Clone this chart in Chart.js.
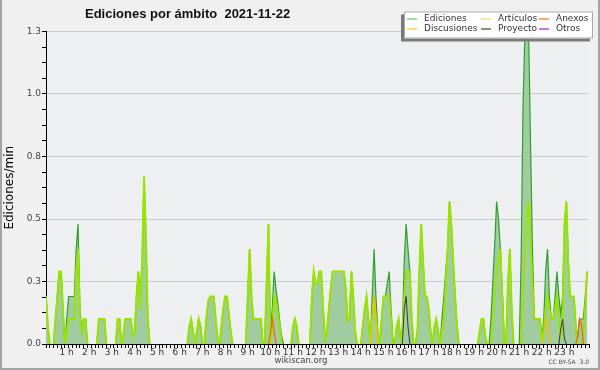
<!DOCTYPE html>
<html><head><meta charset="utf-8">
<script src="https://cdn.jsdelivr.net/npm/chart.js@4/dist/chart.umd.min.js"></script>
<style>html,body{margin:0;padding:0;background:#f0f0f0;}canvas{display:block;}</style>
</head><body>
<canvas id="c" width="600" height="370"></canvas>
<script>
// 5-minute slots, 12 per hour, 00:00 .. 23:55 (edits per minute)
const slotMinutes = 5;
const hourLabels = ['1 h','2 h','3 h','4 h','5 h','6 h','7 h','8 h','9 h','10 h','11 h','12 h','13 h','14 h','15 h','16 h','17 h','18 h','19 h','20 h','21 h','22 h','23 h'];
const seriesNames = ['Ediciones','Artículos','Anexos','Discusiones','Proyecto','Otros'];

const ediciones = [
/*00h*/ 0.19,0.07,0,0,0,0.1,0.19,0.29,0.29,0.14,0,0.1,
/*01h*/ 0.19,0.19,0.19,0.19,0.38,0.48,0.14,0.05,0.1,0.1,0,0,
/*02h*/ 0,0,0,0,0.1,0.1,0.1,0.1,0,0,0,0,
/*03h*/ 0,0,0.1,0.1,0,0.03,0.1,0.1,0.1,0.1,0.03,0.05,
/*04h*/ 0.19,0.29,0.19,0.33,0.67,0.43,0.1,0,0,0,0,0,
/*05h*/ 0,0,0,0,0,0,0,0,0,0,0,0,
/*06h*/ 0,0,0,0,0.07,0.1,0.05,0,0.05,0.1,0.07,0,
/*07h*/ 0,0.1,0.17,0.19,0.19,0.19,0.1,0.02,0,0.07,0.14,0.19,
/*08h*/ 0.19,0.12,0.05,0,0,0,0,0,0,0,0,0.19,
/*09h*/ 0.38,0.19,0.1,0.1,0.1,0.1,0.1,0,0,0.24,0.48,0.05,
/*10h*/ 0.14,0.29,0.22,0.16,0.09,0.03,0,0,0,0,0,0.07,
/*11h*/ 0.1,0.07,0,0,0,0,0,0,0,0.19,0.29,0.24,
/*12h*/ 0.24,0.29,0.29,0.14,0.02,0.05,0.14,0.22,0.29,0.29,0.29,0.29,
/*13h*/ 0.29,0.29,0.29,0.22,0.09,0.1,0.29,0.19,0.05,0,0,0,
/*14h*/ 0.07,0.14,0.19,0.1,0,0.19,0.38,0.19,0.05,0,0.1,0.19,
/*15h*/ 0.19,0.24,0.29,0.14,0.02,0,0.07,0.1,0.02,0.05,0.33,0.48,
/*16h*/ 0.38,0.29,0.1,0,0,0.05,0.29,0.48,0.33,0.19,0.19,0.14,
/*17h*/ 0.05,0,0.07,0.1,0.05,0,0.1,0.19,0.29,0.38,0.57,0.48,
/*18h*/ 0.33,0.19,0.07,0,0,0,0,0,0,0,0,0,
/*19h*/ 0,0,0.05,0.1,0.1,0.03,0,0,0.1,0.25,0.4,0.57,
/*20h*/ 0.5,0.38,0.22,0.03,0,0.24,0.38,0.14,0,0,0,0,
/*21h*/ 0.33,0.95,1.24,1.24,1.24,0.8,0.38,0.1,0.1,0.1,0.1,0.02,
/*22h*/ 0.1,0.29,0.38,0.19,0.1,0.1,0.19,0.29,0.19,0.12,0.19,0.48,
/*23h*/ 0.57,0.33,0.19,0.19,0.19,0.07,0.03,0.1,0.1,0.1,0.19,0.29
];

const articulos = [
/*00h*/ 0.19,0.07,0,0,0,0.1,0.19,0.29,0.29,0.14,0,0.05,
/*01h*/ 0.1,0.1,0.1,0.1,0.29,0.38,0.1,0.05,0.1,0.1,0,0,
/*02h*/ 0,0,0,0,0.1,0.1,0.1,0.1,0,0,0,0,
/*03h*/ 0,0,0.1,0.1,0,0.03,0.1,0.1,0.1,0.1,0.03,0.05,
/*04h*/ 0.19,0.29,0.14,0.33,0.67,0.43,0.1,0,0,0,0,0,
/*05h*/ 0,0,0,0,0,0,0,0,0,0,0,0,
/*06h*/ 0,0,0,0,0.07,0.1,0.05,0,0.05,0.1,0.07,0,
/*07h*/ 0,0.1,0.17,0.19,0.19,0.19,0.1,0.02,0,0.07,0.14,0.19,
/*08h*/ 0.19,0.12,0.05,0,0,0,0,0,0,0,0,0.19,
/*09h*/ 0.38,0.19,0.1,0.1,0.1,0.1,0.1,0,0,0.24,0.48,0.01,
/*10h*/ 0.05,0.19,0.17,0.12,0.07,0,0,0,0,0,0,0.07,
/*11h*/ 0.1,0.07,0,0,0,0,0,0,0,0.19,0.29,0.24,
/*12h*/ 0.24,0.29,0.29,0.14,0.02,0.05,0.14,0.22,0.29,0.29,0.29,0.29,
/*13h*/ 0.29,0.29,0.29,0.22,0.09,0.1,0.29,0.19,0.05,0,0,0,
/*14h*/ 0.07,0.14,0.19,0.1,0,0.1,0.19,0.1,0.05,0,0.1,0.19,
/*15h*/ 0.19,0.19,0.19,0.1,0,0,0.07,0.1,0.02,0.05,0.19,0.29,
/*16h*/ 0.29,0.29,0.1,0,0,0.05,0.29,0.48,0.33,0.19,0.19,0.14,
/*17h*/ 0.05,0,0.07,0.1,0.05,0,0.05,0.1,0.24,0.38,0.57,0.48,
/*18h*/ 0.33,0.19,0.07,0,0,0,0,0,0,0,0,0,
/*19h*/ 0,0,0.05,0.1,0.1,0.03,0,0,0,0.1,0.19,0.29,
/*20h*/ 0.33,0.38,0.19,0,0,0.24,0.38,0.14,0,0,0,0,
/*21h*/ 0,0.19,0.38,0.52,0.57,0.4,0.24,0.1,0.1,0.1,0.1,0.02,
/*22h*/ 0.05,0.14,0.19,0.14,0.1,0.1,0.14,0.19,0.1,0.02,0.1,0.48,
/*23h*/ 0.57,0.33,0.19,0.19,0.19,0.07,0,0,0,0.03,0.14,0.29
];

const anexos = [
/*00h-08h*/ 0,0,0,0,0,0,0,0,0,0,0,0, 0,0,0,0,0,0,0,0,0,0,0,0, 0,0,0,0,0,0,0,0,0,0,0,0,
            0,0,0,0,0,0,0,0,0,0,0,0, 0,0,0,0,0,0,0,0,0,0,0,0, 0,0,0,0,0,0,0,0,0,0,0,0,
            0,0,0,0,0,0,0,0,0,0,0,0, 0,0,0,0,0,0,0,0,0,0,0,0, 0,0,0,0,0,0,0,0,0,0,0,0,
/*09h*/ 0,0,0,0,0,0,0,0,0,0,0,0.04,
/*10h*/ 0.1,0.05,0,0,0,0,0,0,0,0,0,0,
/*11h-22h*/ 0,0,0,0,0,0,0,0,0,0,0,0, 0,0,0,0,0,0,0,0,0,0,0,0, 0,0,0,0,0,0,0,0,0,0,0,0,
            0,0,0,0,0,0,0,0,0,0,0,0, 0,0,0,0,0,0,0,0,0,0,0,0, 0,0,0,0,0,0,0,0,0,0,0,0,
            0,0,0,0,0,0,0,0,0,0,0,0, 0,0,0,0,0,0,0,0,0,0,0,0, 0,0,0,0,0,0,0,0,0,0,0,0,
            0,0,0,0,0,0,0,0,0,0,0,0, 0,0,0,0,0,0,0,0,0,0,0,0, 0,0,0,0,0,0,0,0,0,0,0,0,
/*23h*/ 0,0,0,0,0,0,0.03,0.1,0.08,0,0,0
];

const discusiones = [
/*00h-13h*/ 0,0,0,0,0,0,0,0,0,0,0,0, 0,0,0,0,0,0,0,0,0,0,0,0, 0,0,0,0,0,0,0,0,0,0,0,0,
            0,0,0,0,0,0,0,0,0,0,0,0, 0,0,0,0,0,0,0,0,0,0,0,0, 0,0,0,0,0,0,0,0,0,0,0,0,
            0,0,0,0,0,0,0,0,0,0,0,0, 0,0,0,0,0,0,0,0,0,0,0,0, 0,0,0,0,0,0,0,0,0,0,0,0,
            0,0,0,0,0,0,0,0,0,0,0,0, 0,0,0,0,0,0,0,0,0,0,0,0, 0,0,0,0,0,0,0,0,0,0,0,0,
            0,0,0,0,0,0,0,0,0,0,0,0, 0,0,0,0,0,0,0,0,0,0,0,0,
/*14h*/ 0,0,0,0,0,0.1,0.19,0.1,0,0,0,0,
/*15h-21h*/ 0,0,0,0,0,0,0,0,0,0,0,0, 0,0,0,0,0,0,0,0,0,0,0,0, 0,0,0,0,0,0,0,0,0,0,0,0,
            0,0,0,0,0,0,0,0,0,0,0,0, 0,0,0,0,0,0,0,0,0,0,0,0, 0,0,0,0,0,0,0,0,0,0,0,0,
            0,0,0,0,0,0,0,0,0,0,0,0,
/*22h*/ 0.03,0.08,0.1,0.04,0,0,0,0,0,0,0,0,
/*23h*/ 0,0,0,0,0,0,0,0,0,0,0,0
];

const proyecto = [
/*00h-14h*/ 0,0,0,0,0,0,0,0,0,0,0,0, 0,0,0,0,0,0,0,0,0,0,0,0, 0,0,0,0,0,0,0,0,0,0,0,0,
            0,0,0,0,0,0,0,0,0,0,0,0, 0,0,0,0,0,0,0,0,0,0,0,0, 0,0,0,0,0,0,0,0,0,0,0,0,
            0,0,0,0,0,0,0,0,0,0,0,0, 0,0,0,0,0,0,0,0,0,0,0,0, 0,0,0,0,0,0,0,0,0,0,0,0,
            0,0,0,0,0,0,0,0,0,0,0,0, 0,0,0,0,0,0,0,0,0,0,0,0, 0,0,0,0,0,0,0,0,0,0,0,0,
            0,0,0,0,0,0,0,0,0,0,0,0, 0,0,0,0,0,0,0,0,0,0,0,0, 0,0,0,0,0,0,0,0,0,0,0,0,
/*15h*/ 0,0,0,0,0,0,0,0,0,0,0.14,0.19,
/*16h*/ 0.07,0,0,0,0,0,0,0,0,0,0,0,
/*17h-21h*/ 0,0,0,0,0,0,0,0,0,0,0,0, 0,0,0,0,0,0,0,0,0,0,0,0, 0,0,0,0,0,0,0,0,0,0,0,0,
            0,0,0,0,0,0,0,0,0,0,0,0, 0,0,0,0,0,0,0,0,0,0,0,0,
/*22h*/ 0,0,0,0,0,0,0,0,0,0.06,0.1,0.02,
/*23h*/ 0,0,0,0,0,0,0,0,0,0,0,0
];

const otros = new Array(288).fill(0);

const seriesValues = [ediciones, articulos, anexos, discusiones, proyecto, otros];
const lineColors   = ['#2f9f2f', '#9be300', '#ff5a14', '#f2c200', '#3a3a3a', '#9933ee'];
const legendColors = ['#80d080', '#d2f27a', '#ff8a5c', '#ffd050', '#666666', '#a050f0'];
const lineWidths   = [1.2, 2, 1.2, 1.2, 1, 1];
const drawOrder    = [6, 5, 4, 3, 2, 1];

const toPoints = arr => arr.map((v, i) => ({x: i * slotMinutes / 60, y: v}));

const datasets = seriesNames.map((name, k) => ({
  label: name,
  data: toPoints(seriesValues[k]),
  borderColor: lineColors[k],
  borderWidth: lineWidths[k],
  backgroundColor: k === 0 ? '#a0cca0' : 'transparent',
  fill: k === 0 ? 'origin' : false,
  order: drawOrder[k],
  pointRadius: 0,
  tension: 0,
  legendColor: legendColors[k],
  segment: {
    borderColor: c => (c.p0.parsed.y === 0 && c.p1.parsed.y === 0) ? 'rgba(0,0,0,0)' : undefined
  }
}));

const decor = {
  id: 'decor',
  beforeDraw(chart) {
    const {ctx, chartArea: a} = chart;
    ctx.save();
    ctx.fillStyle = '#f0f0f0';
    ctx.fillRect(0, 0, chart.width, chart.height);
    ctx.fillStyle = '#edeff1';
    ctx.fillRect(a.left, a.top, a.right - a.left, a.bottom - a.top);
    ctx.restore();
  },
  afterDraw(chart) {
    const ctx = chart.ctx;
    ctx.save();
    // title
    ctx.fillStyle = '#111';
    ctx.font = 'bold 13px "Liberation Sans"';
    ctx.textBaseline = 'middle';
    ctx.textAlign = 'left';
    ctx.fillText('Ediciones por ámbito  2021-11-22', 85, 14);
    // legend box with shadow
    const bx = 404, by = 11.5, bw = 189, bh = 27;
    ctx.fillStyle = '#7a7a7a';
    ctx.fillRect(bx - 3, by + 3, bw, bh);
    ctx.fillStyle = '#ffffff';
    ctx.fillRect(bx, by, bw, bh);
    ctx.strokeStyle = '#a8a8a8';
    ctx.lineWidth = 1;
    ctx.strokeRect(bx + 0.5, by + 0.5, bw - 1, bh - 1);
    const colX = [407, 481, 539];
    const rowY = [19, 29];
    ctx.font = '9px "DejaVu Sans"';
    chart.data.datasets.forEach((ds, i) => {
      const cx = colX[i % 3], cy = rowY[Math.floor(i / 3)];
      ctx.strokeStyle = ds.legendColor;
      ctx.lineWidth = 1.5;
      ctx.beginPath(); ctx.moveTo(cx, cy); ctx.lineTo(cx + 10, cy); ctx.stroke();
      ctx.fillStyle = '#333';
      ctx.fillText(ds.label, cx + 17, cy);
    });
    // footer
    ctx.fillStyle = '#444';
    ctx.font = '8.5px "DejaVu Sans"';
    ctx.textAlign = 'center';
    ctx.fillText('wikiscan.org', 301, 361);
    ctx.font = '6px "DejaVu Sans"';
    ctx.textAlign = 'right';
    ctx.fillText('CC BY-SA  3.0', 589, 362);
    // frame
    ctx.fillStyle = '#a4a4a4';
    ctx.fillRect(0, 0, 2, chart.height);
    ctx.fillRect(chart.width - 2, 0, 2, chart.height);
    ctx.fillRect(0, chart.height - 2, chart.width, 2);
    ctx.restore();
  }
};

new Chart(document.getElementById('c'), {
  type: 'line',
  data: { datasets },
  plugins: [decor],
  options: {
    responsive: false,
    animation: false,
    devicePixelRatio: 1,
    layout: { padding: { top: 31.5, right: 11, left: 0, bottom: 0 } },
    plugins: { legend: { display: false }, tooltip: { enabled: false }, title: { display: false } },
    scales: {
      x: {
        type: 'linear', min: 0, max: 24, z: 1,
        afterBuildTicks: s => { const t = []; for (let k = 0; k <= 144; k++) t.push({ value: k / 6 }); s.ticks = t; },
        afterFit: s => { s.height = 26; },
        ticks: {
          autoSkip: false, maxRotation: 0, minRotation: 0, padding: -1, labelOffset: -2,
          color: '#333', font: { family: 'DejaVu Sans', size: 9 },
          callback: v => (Number.isInteger(v) && v > 0 && v < 24) ? hourLabels[v - 1] : ''
        },
        grid: { drawOnChartArea: false, drawTicks: true, tickLength: 4, tickColor: '#000', tickWidth: 1 },
        border: { display: true, color: '#000', width: 1 }
      },
      y: {
        min: 0, max: 1.25, z: 0,
        afterBuildTicks: s => { const t = []; for (let k = 0; k <= 20; k++) t.push({ value: k * 0.0625 }); s.ticks = t; },
        afterFit: s => { s.width = 46; },
        ticks: {
          autoSkip: false, padding: 1, color: '#444', font: { family: 'DejaVu Sans', size: 9 },
          callback: v => (v % 0.25 === 0) ? v.toFixed(1) : ''
        },
        grid: {
          drawOnChartArea: true, drawTicks: true, tickLength: 4, tickColor: '#000',
          color: c => (c.tick && c.tick.value > 0 && c.tick.value % 0.25 === 0) ? '#cccccc' : 'rgba(0,0,0,0)'
        },
        border: { display: true, color: '#000', width: 1 },
        title: { display: true, text: 'Ediciones/min', color: '#000', font: { family: 'DejaVu Sans', size: 12 }, padding: { top: 3, bottom: 4 } }
      }
    }
  }
});
</script>
</body></html>
